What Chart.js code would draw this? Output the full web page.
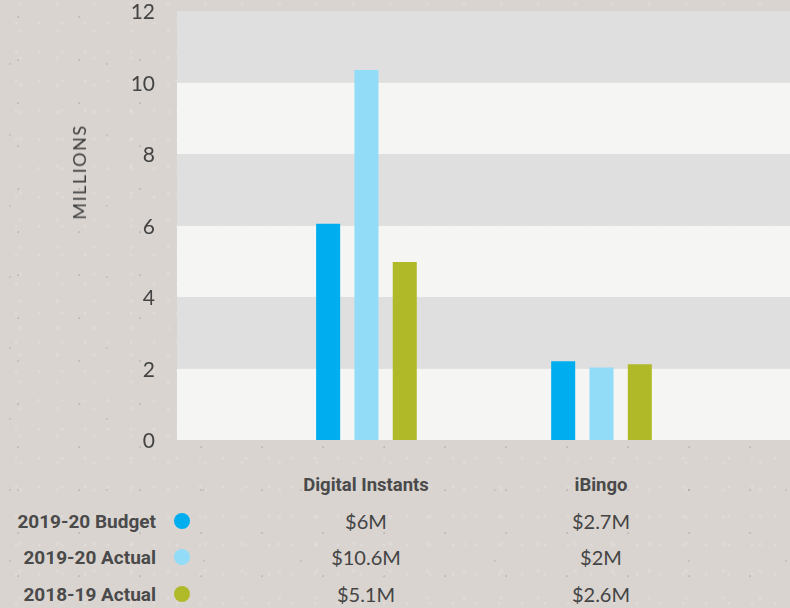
<!DOCTYPE html>
<html>
<head>
<meta charset="utf-8">
<script src="https://cdn.jsdelivr.net/npm/chart.js@4/dist/chart.umd.min.js"></script>
<style>
    html, body {
        margin: 0;
        padding: 0;
    }
    body {
        width: 790px;
        height: 608px;
        overflow: hidden;
        position: relative;
        background-color: #d9d4d0;
        background-image:
            radial-gradient(circle at 30% 40%, rgba(110,100,95,0.22) 0 0.8px, transparent 1.3px),
            radial-gradient(circle at 70% 80%, rgba(240,237,234,0.25) 0 1px, transparent 1.8px),
            radial-gradient(circle at 10% 90%, rgba(100,92,88,0.18) 0 0.8px, transparent 1.2px),
            radial-gradient(circle at 55% 15%, rgba(232,228,225,0.3) 0 1.5px, transparent 2.5px);
        background-size: 61px 43px, 23px 29px, 97px 71px, 37px 27px;
        font-family: Lato, sans-serif;
        color: #444;
    }
    #chartWrap {
        position: absolute;
        left: 0;
        top: 0;
    }
    #yTitle {
        position: absolute;
        left: 79px;
        top: 172px;
        transform: translate(-50%, -50%) rotate(-90deg);
        font-size: 18px;
        letter-spacing: 1.5px;
        white-space: nowrap;
        color: #3f3f3f;
    }
    .cell {
        position: absolute;
        transform: translate(-50%, -50%);
        white-space: nowrap;
        font-size: 20px;
        color: #444;
    }
    .head {
        font-family: Roboto, sans-serif;
        font-weight: 700;
        font-size: 18.5px;
        color: #4a4a4a;
    }
    .rowLabel {
        position: absolute;
        transform: translateY(-50%);
        right: 634px;
        white-space: nowrap;
        font-family: Roboto, sans-serif;
        font-weight: 700;
        font-size: 19px;
        color: #4a4a4a;
    }
    .dot {
        position: absolute;
        width: 16px;
        height: 16px;
        border-radius: 50%;
        transform: translate(-50%, -50%);
    }
</style>
</head>
<body>
<div id="chartWrap"><canvas id="myChart" width="790" height="460"></canvas></div>
<div id="yTitle">MILLIONS</div>
<div id="table"></div>

<script>
// data
const categories = [ 'Digital Instants', 'iBingo' ];
const seriesNames = [ '2019-20 Budget', '2019-20 Actual', '2018-19 Actual' ];
const budget1920 = [ 6.05, 2.2 ];
const actual1920 = [ 10.35, 2.03 ];
const actual1819 = [ 4.98, 2.12 ];
const tableBudget1920 = [ '$6M', '$2.7M' ];
const tableActual1920 = [ '$10.6M', '$2M' ];
const tableActual1819 = [ '$5.1M', '$2.6M' ];
const yTicks = [ 0, 2, 4, 6, 8, 10, 12 ];

const colors = [ '#00aeef', '#92dcf8', '#b0b927' ];
const columnX = [ 366, 601 ];


// alternating horizontal bands behind the bars
const bandPlugin = {
    id: 'bands',
    beforeDatasetsDraw( chart ) {
        const { ctx, chartArea, scales } = chart;
        const y = scales.y;
        ctx.save();
        for ( let i = 0; i < yTicks.length - 1; i++ ) {
            const top = y.getPixelForValue( yTicks[i + 1] );
            const bottom = y.getPixelForValue( yTicks[i] );
            ctx.fillStyle = ( i % 2 === 0 ) ? '#f5f5f3' : '#dfdfdf';
            ctx.fillRect( chartArea.left, top, chartArea.right - chartArea.left, bottom - top );
        }
        ctx.restore();
    }
};

const toPoints = values => values.map( ( v, i ) => ({ x: i, y: v }) );

const ctx = document.getElementById('myChart');

const myChart = new Chart(ctx, {
    type: 'bar',
    data: {
        datasets: [
            { label: seriesNames[0], data: toPoints( budget1920 ), backgroundColor: colors[0] },
            { label: seriesNames[1], data: toPoints( actual1920 ), backgroundColor: colors[1] },
            { label: seriesNames[2], data: toPoints( actual1819 ), backgroundColor: colors[2] },
        ]
    },
    options: {
        responsive: false,
        animation: false,
        devicePixelRatio: 1,
        categoryPercentage: 0.489,
        barPercentage: 0.627,
        layout: {
            padding: { top: 11, bottom: 20, right: 0 }
        },
        plugins: {
            legend: { display: false },
            tooltip: { enabled: false }
        },
        scales: {
            x: {
                type: 'linear',
                min: -0.806,
                max: 1.802,
                offset: false,
                display: false,
                afterBuildTicks: scale => {
                    scale.ticks = categories.map( ( c, i ) => ({ value: i }) );
                }
            },
            y: {
                min: 0,
                max: 12,
                afterBuildTicks: scale => {
                    scale.ticks = yTicks.map( v => ({ value: v }) );
                },
                afterFit: scale => {
                    scale.width = 177;
                    scale.paddingTop = 0;
                    scale.paddingBottom = 0;
                },
                grid: { display: false, drawTicks: false },
                border: { display: false },
                ticks: {
                    padding: 22,
                    labelOffset: 1.5,
                    color: '#444',
                    font: { family: 'Lato', size: 21 }
                }
            }
        }
    },
    plugins: [ bandPlugin ]
});


// table under the chart
const table = document.getElementById('table');
const rows = [ tableBudget1920, tableActual1920, tableActual1819 ];
const rowY = [ 521, 557, 594 ];

const addEl = ( cls, text, styles ) => {
    const el = document.createElement('div');
    el.className = cls;
    el.textContent = text;
    Object.assign( el.style, styles );
    table.appendChild( el );
};

categories.forEach( ( c, i ) => {
    addEl( 'cell head', c, { left: columnX[i] + 'px', top: '485px' } );
});

rows.forEach( ( row, r ) => {
    addEl( 'rowLabel', seriesNames[r], { top: rowY[r] + 'px' } );
    addEl( 'dot', '', { left: '182px', top: rowY[r] + 'px', background: colors[r] } );
    row.forEach( ( val, i ) => {
        addEl( 'cell', val, { left: columnX[i] + 'px', top: rowY[r] + 'px' } );
    });
});
</script>
</body>
</html>
